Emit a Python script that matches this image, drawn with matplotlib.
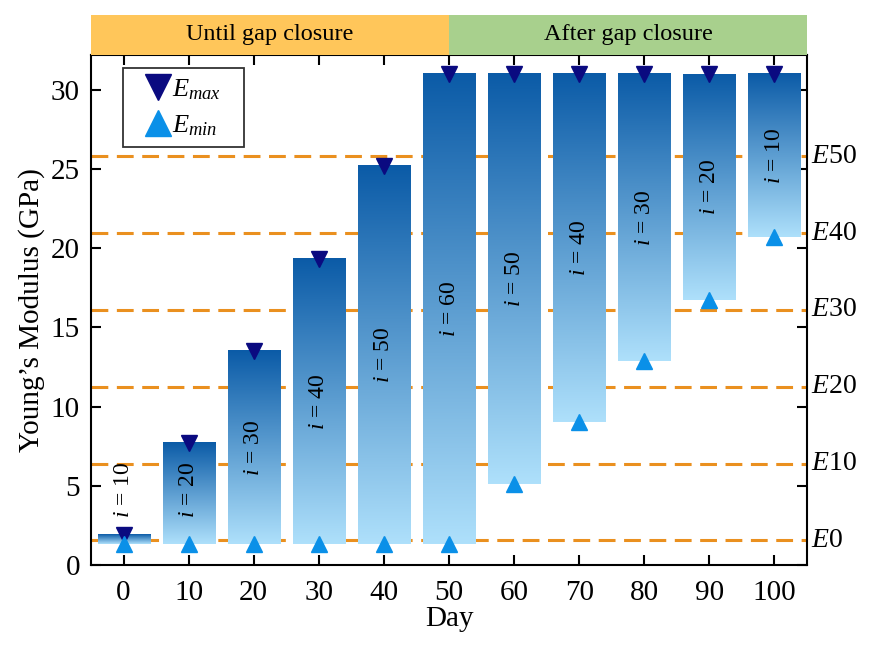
import matplotlib
matplotlib.use("Agg")
import matplotlib.pyplot as plt
from matplotlib.colors import LinearSegmentedColormap
from matplotlib.lines import Line2D
import matplotlib.transforms as mtransforms
import numpy as np

# data
days = [0, 10, 20, 30, 40, 50, 60, 70, 80, 90, 100]
e_max = [1.9, 7.7, 13.5, 19.35, 25.2, 31.0, 31.0, 31.0, 31.0, 31.0, 31.0]
e_min = [1.3, 1.3, 1.3, 1.3, 1.3, 1.3, 5.1, 9.0, 12.85, 16.75, 20.7]
i_labels = [10, 20, 30, 40, 50, 60, 50, 40, 30, 20, 10]
ref_levels = [1.55, 6.4, 11.25, 16.1, 20.95, 25.8]
ref_names = ["0", "10", "20", "30", "40", "50"]
phases = ["Until gap closure", "After gap closure"]

plt.rcParams['font.family'] = ['Liberation Serif', 'DejaVu Serif']
plt.rcParams['mathtext.fontset'] = 'custom'
plt.rcParams['mathtext.rm'] = 'Liberation Serif'
plt.rcParams['mathtext.it'] = 'Liberation Serif:italic'

fig = plt.figure(figsize=(8.7, 6.46), dpi=100)
ax = fig.add_axes([0.1046, 0.1254, 0.823, 0.7895])
hd = fig.add_axes([0.1046, 0.9149, 0.823, 0.0619])

cmap = LinearSegmentedColormap.from_list("bar", ["#aee0fb", "#0b5ba7"])
grad = np.linspace(0, 1, 256).reshape(-1, 1)
w = 8.0
for d, lo, hi, lab in zip(days, e_min, e_max, i_labels):
    ax.imshow(grad, cmap=cmap, origin='lower', aspect='auto',
              extent=[d - w / 2, d + w / 2, lo, hi], zorder=2)
    ty = max((lo + hi) / 2, 4.75)
    ax.text(d, ty, "$i$ = %d" % lab, rotation=90, ha='center', va='center',
            fontsize=17, zorder=4)

for lvl in ref_levels:
    ax.axhline(lvl, color='#ea901f', lw=2.2, dashes=(5.5, 2.8), zorder=1)

trans = mtransforms.blended_transform_factory(ax.transAxes, ax.transData)
for lvl, nm in zip(ref_levels, ref_names):
    ax.text(1.005, lvl, "$E$" + nm, transform=trans, ha='left', va='center',
            fontsize=20)

ax.plot(days, e_max, 'v', color='#0a0a80', ms=11, ls='none', zorder=5)
ax.plot(days, e_min, '^', color='#0a90e8', ms=11, ls='none', zorder=5)

ax.set_xlim(-5, 105)
ax.set_ylim(0, 32.2)
ax.set_xticks(days)
ax.set_yticks([0, 5, 10, 15, 20, 25, 30])
ax.tick_params(direction='in', length=7, width=1.5, labelsize=21,
               top=True, right=True)
ax.tick_params(axis='x', pad=11)
ax.tick_params(axis='y', pad=8)
for s in ax.spines.values():
    s.set_linewidth(1.5)
ax.set_xlabel("Day", fontsize=21, labelpad=0)
ax.set_ylabel("Young\u2019s Modulus (GPa)", fontsize=21, labelpad=4)

handles = [Line2D([], [], marker='v', color='#0a0a80', ls='none', ms=19),
           Line2D([], [], marker='^', color='#0a90e8', ls='none', ms=19)]
leg = ax.legend(handles, ["$E_{max}$   ", "$E_{min}$   "], loc='upper left',
                bbox_to_anchor=(0.045, 0.975), borderaxespad=0, fontsize=19,
                fancybox=False, edgecolor='#333333', handlelength=1.9,
                handletextpad=-0.4, labelspacing=0.45, borderpad=0.35,
                framealpha=1)
leg.get_frame().set_linewidth(1.3)

hd.set_xlim(-5, 105)
hd.set_ylim(0, 1)
hd.axvspan(-5, 50, color='#ffc65a', lw=0)
hd.axvspan(50, 105, color='#a8d08d', lw=0)
hd.text(22.5, 0.5, phases[0], ha='center', va='center', fontsize=17.5)
hd.text(77.5, 0.5, phases[1], ha='center', va='center', fontsize=17.5)
hd.axis('off')

fig.savefig("out.png", dpi=100)
